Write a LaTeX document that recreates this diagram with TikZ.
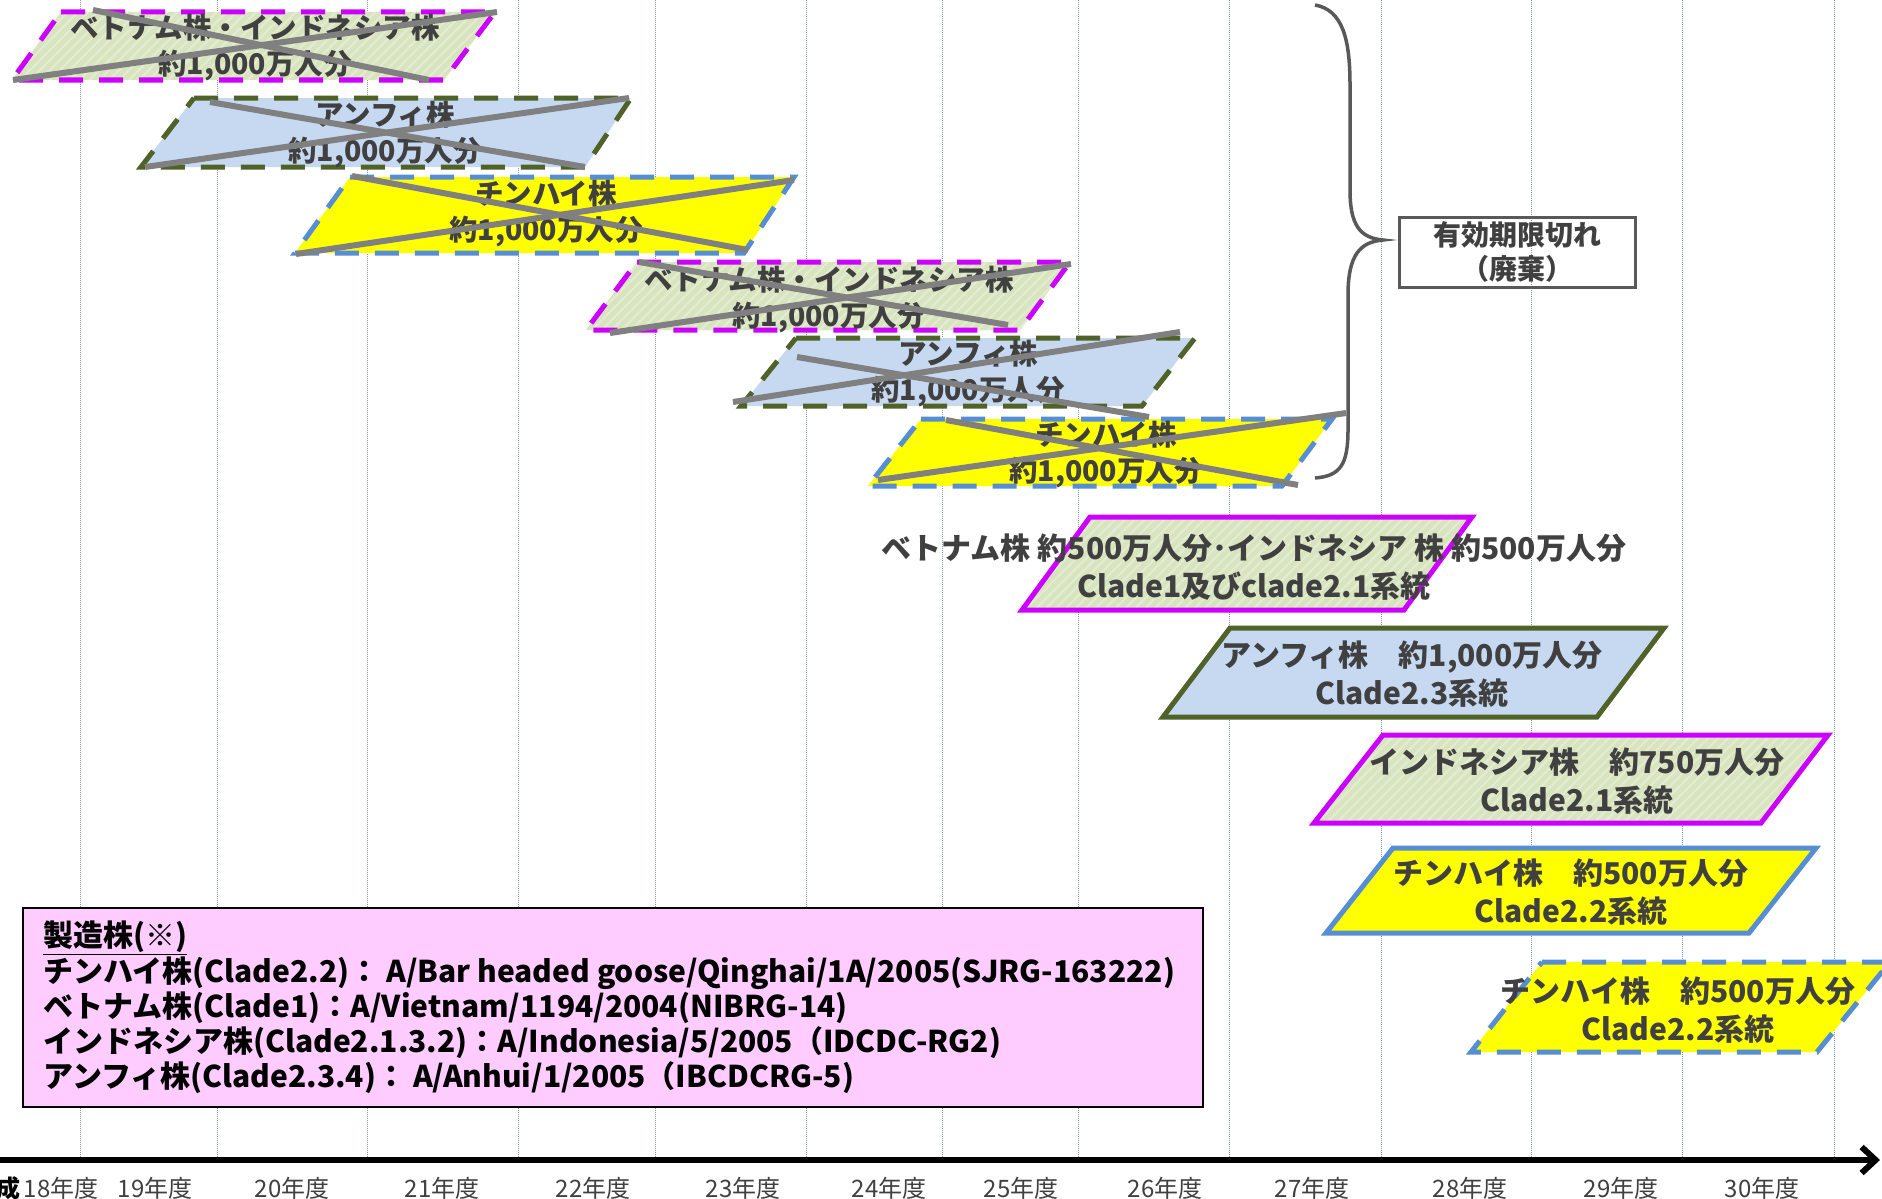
\documentclass[tikz,border=0pt]{standalone}
\usepackage{fontspec}
\setmainfont{Noto Sans CJK JP}
\usetikzlibrary{patterns.meta,arrows.meta}
\definecolor{mag}{HTML}{CC00FF}
\definecolor{olv}{HTML}{4F6228}
\definecolor{blu}{HTML}{558ED5}
\definecolor{ylw}{HTML}{FFFF00}
\definecolor{lgreen}{HTML}{D7E4BD}
\definecolor{lgreenh}{HTML}{E3EBD2}
\definecolor{lblue}{HTML}{C6D9F1}
\definecolor{pinkbg}{HTML}{FFCCFF}
\definecolor{txt}{HTML}{404040}
\definecolor{xgray}{HTML}{808080}
\definecolor{brgray}{HTML}{595959}
\definecolor{gridc}{HTML}{8497B0}
\newcommand\mypara[8]{%
  \path[#1] (#3,#7) -- (#4,#7) -- (#5,#8) -- (#6,#8) -- cycle;
  \draw[#2] (#3,#7) -- (#4,#7) -- (#5,#8) -- (#6,#8) -- cycle;}
\begin{document}
\begin{tikzpicture}[x=1pt,y=-1pt,
  brd/.style={line width=5pt, line join=miter},
  dsh/.style={brd, dash pattern=on 24pt off 16pt},
  vnfill/.style={fill=lgreen, postaction={pattern={Lines[angle=45,distance=7pt,line width=2.2pt]}, pattern color=lgreenh}},
  bufill/.style={fill=lblue},
  yefill/.style={fill=ylw},
  ptxt/.style={text=txt, font=\bfseries\fontsize{30}{38}\selectfont, align=center, inner sep=0pt},
  otxt/.style={text=txt, font=\bfseries\fontsize{28.5}{36}\selectfont, align=center, inner sep=0pt},
  xline/.style={xgray, line width=6pt},
  grid/.style={gridc, line width=1pt, densely dotted},
  yr/.style={text=txt, font=\fontsize{24}{28}\selectfont, inner sep=0pt},
  leg/.style={text=black, font=\bfseries\fontsize{30}{34}\selectfont, anchor=west, inner sep=0pt}
]
\useasboundingbox (0,0) rectangle (1882,1199);
\fill[white] (0,0) rectangle (1882,1199);

% grid lines
\foreach \gx in {80,217,367,518,655,806,942,1078,1229,1381,1531,1682,1834}
  \draw[grid] (\gx,0) -- (\gx,1160);

% legend box
\node[draw=black, line width=2.5pt, fill=pinkbg, minimum width=1180pt, minimum height=199pt, inner sep=0pt] (legbox) at (613,1007.5) {};
\node[leg] (leg0) at (43,938) {\underline{製造株(※)}};
\node[leg] (leg1) at (43,973) {チンハイ株(Clade2.2)：\ A/Bar headed goose/Qinghai/1A/2005(SJRG-163222)};
\node[leg] (leg2) at (43,1008) {ベトナム株(Clade1)：A/Vietnam/1194/2004(NIBRG-14)};
\node[leg] (leg3) at (43,1043) {インドネシア株(Clade2.1.3.2)：A/Indonesia/5/2005（IDCDC-RG2)};
\node[leg] (leg4) at (43,1078) {アンフィ株(Clade2.3.4)：\ A/Anhui/1/2005（IBCDCRG-5)};

% expired (old) stocks
\mypara{vnfill}{mag,dsh}{61}{495}{444}{12}{12}{80}
\node[otxt] (o1) at (255,48) {ベトナム株・インドネシア株\\約1,000万人分};
\mypara{bufill}{olv,dsh}{194}{631}{585}{141}{98}{167}
\node[otxt] (o2) at (385,135) {アンフィ株\\約1,000万人分};
\mypara{yefill}{blu,dsh}{350}{794}{744}{295}{177}{253}
\node[otxt] (o3) at (546,214) {チンハイ株\\約1,000万人分};
\mypara{vnfill}{mag,dsh}{637}{1070}{1020}{586}{262}{330}
\node[otxt] (o4) at (829,300) {ベトナム株・インドネシア株\\約1,000万人分};
\mypara{bufill}{olv,dsh}{796}{1195}{1142}{741}{338}{406}
\node[otxt] (o5) at (968,374) {アンフィ株\\約1,000万人分};
\mypara{yefill}{blu,dsh}{921}{1332}{1282}{868}{419}{486}
\node[otxt] (o6) at (1106,455) {チンハイ株\\約1,000万人分};

% current stocks
\mypara{vnfill}{mag,brd}{1090}{1472}{1404}{1022}{517}{610}
\node[ptxt] (n7) at (1254,567) {ベトナム株 約500万人分･インドネシア 株 約500万人分\\Clade1及びclade2.1系統};
\mypara{bufill}{olv,brd}{1230}{1664}{1597}{1163}{628}{717}
\node[ptxt] (n8) at (1412,674) {アンフィ株　約1,000万人分\\Clade2.3系統};
\mypara{vnfill}{mag,brd}{1383}{1828}{1761}{1314}{735}{823}
\node[ptxt] (n9) at (1577,781) {インドネシア株　約750万人分\\Clade2.1系統};
\mypara{yefill}{blu,brd}{1393}{1816}{1749}{1326}{848}{933}
\node[ptxt] (n10) at (1571,892) {チンハイ株　約500万人分\\Clade2.2系統};
\mypara{yefill}{blu,dsh}{1542}{1890}{1817}{1471}{962}{1052}
\node[ptxt] (n11) at (1678,1010) {チンハイ株　約500万人分\\Clade2.2系統};

% crossing-out lines
\draw[xline] (93,10) -- (429,80);
\draw[xline] (13,80) -- (497,12);
\draw[xline] (210,102) -- (585,167);
\draw[xline] (145,167) -- (629,98);
\draw[xline] (352,176) -- (748,250);
\draw[xline] (296,254) -- (794,180);
\draw[xline] (639,262) -- (1008,325);
\draw[xline] (610,333) -- (1071,264);
\draw[xline] (797,357) -- (1149,417);
\draw[xline] (733,402) -- (1180,332);
\draw[xline] (946,420) -- (1298,485);
\draw[xline] (878,480) -- (1346,413);

% brace
\draw[brgray, line width=3.5pt] (1315,5) .. controls (1343,10) and (1350,40) .. (1350,85) -- (1350,190)
  .. controls (1350,225) and (1360,238) .. (1383,240)
  .. controls (1360,242) and (1348,255) .. (1348,295) -- (1348,430)
  .. controls (1348,465) and (1340,476) .. (1315,478);
\node[draw=brgray, line width=3pt, minimum width=236pt, minimum height=70pt, inner sep=0pt,
      text=txt, font=\bfseries\fontsize{28}{34}\selectfont, align=center] (expired) at (1517,252) {有効期限切れ\\（廃棄）};

% axis
\coordinate (axL) at (0,1160);
\coordinate (axR) at (1880,1160);
\draw[line width=6pt, -{Straight Barb[length=14pt,width=26pt]}] (axL) -- (axR);
\node[anchor=east, inner sep=0pt, font=\bfseries\fontsize{24}{28}\selectfont] (heisei) at (21,1188) {成};
\node[yr] (y18) at (61,1188) {18年度};
\node[yr] (y19) at (155,1188) {19年度};
\node[yr] (y20) at (292,1188) {20年度};
\node[yr] (y21) at (442,1188) {21年度};
\node[yr] (y22) at (593,1188) {22年度};
\node[yr] (y23) at (743,1188) {23年度};
\node[yr] (y24) at (889,1188) {24年度};
\node[yr] (y25) at (1021,1188) {25年度};
\node[yr] (y26) at (1165,1188) {26年度};
\node[yr] (y27) at (1312,1188) {27年度};
\node[yr] (y28) at (1470,1188) {28年度};
\node[yr] (y29) at (1621,1188) {29年度};
\node[yr] (y30) at (1762,1188) {30年度};
\end{tikzpicture}
\end{document}
